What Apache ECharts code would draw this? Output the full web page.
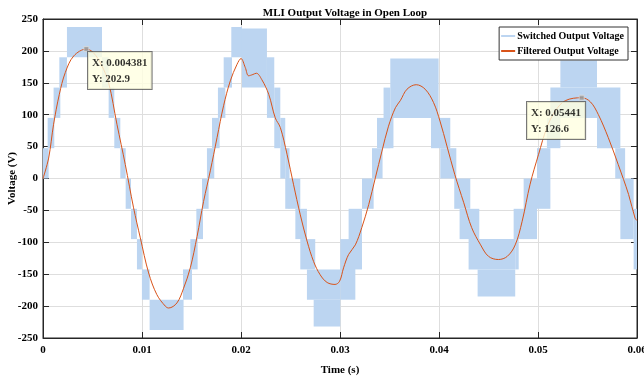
<!DOCTYPE html>
<html>
<head>
<meta charset="utf-8">
<script src="https://cdn.jsdelivr.net/npm/echarts@6/dist/echarts.min.js"></script>
<style>
  html, body { margin: 0; padding: 0; background: #fff; }
  #chart { width: 644px; height: 381px; }
</style>
</head>
<body>
<div id="chart"></div>
<script>
  // switched output: PWM bands [t start (s), t end (s), low level (V), high level (V)]
  const switchBands = [
    [0, 0.00057, 0, 47.5],
    [0.00047, 0.00114, 47.5, 95],
    [0.00107, 0.00175, 95, 142.5],
    [0.00165, 0.00242, 142.5, 190],
    [0.00242, 0.00596, 190, 237.5],
    [0.00596, 0.00663, 142.5, 190],
    [0.00663, 0.0072, 95, 142.5],
    [0.0072, 0.00781, 47.5, 95],
    [0.00781, 0.00835, 0, 47.5],
    [0.00835, 0.00889, -47.5, 0],
    [0.00889, 0.00949, -95, -47.5],
    [0.00949, 0.00999, -142.5, -95],
    [0.00999, 0.01077, -190, -142.5],
    [0.01077, 0.0142, -237.5, -190],
    [0.01414, 0.01505, -190, -142.5],
    [0.01488, 0.01562, -142.5, -95],
    [0.01549, 0.01616, -95, -47.5],
    [0.01606, 0.01673, -47.5, 0],
    [0.01656, 0.0173, 0, 47.5],
    [0.01707, 0.01784, 47.5, 95],
    [0.01767, 0.01842, 95, 142.5],
    [0.01825, 0.01909, 142.5, 190],
    [0.01902, 0.0201, 190, 237.5],
    [0.0201, 0.02262, 142.5, 235],
    [0.02262, 0.02336, 95, 190],
    [0.02336, 0.02397, 47.5, 142.5],
    [0.02397, 0.02447, 0, 95],
    [0.02447, 0.0249, -47.5, 47.5],
    [0.0248, 0.02599, -47.5, 0],
    [0.02549, 0.02666, -95, -47.5],
    [0.02599, 0.0275, -142.5, -95],
    [0.02666, 0.03003, -190, -142.5],
    [0.02734, 0.03003, -232, -190],
    [0.03003, 0.03155, -190, -95],
    [0.03087, 0.03222, -142.5, -47.5],
    [0.03222, 0.0334, -47.5, 0],
    [0.03323, 0.0343, 0, 47.5],
    [0.03374, 0.0354, 47.5, 95],
    [0.0344, 0.03508, 47.5, 142.5],
    [0.03508, 0.03996, 95, 188],
    [0.03919, 0.04114, 47.5, 95],
    [0.04013, 0.04175, 0, 47.5],
    [0.04154, 0.04316, -47.5, 0],
    [0.04208, 0.04407, -95, -47.5],
    [0.04299, 0.0477, -142.5, -95],
    [0.0439, 0.0477, -185, -142.5],
    [0.04754, 0.0486, -95, -47.5],
    [0.0477, 0.04805, -142.5, -95],
    [0.04855, 0.0499, -95, 0],
    [0.0499, 0.05125, -47.5, 47.5],
    [0.0509, 0.05226, 47.5, 95],
    [0.05125, 0.05596, 95, 142.5],
    [0.05226, 0.05596, 142.5, 185],
    [0.05596, 0.05832, 47.5, 142.5],
    [0.0578, 0.0588, 0, 47.5],
    [0.05832, 0.05966, -95, 0],
    [0.05966, 0.06, -142.5, -47.5]
  ]

  // filtered output voltage
  const filteredT = [
    0, 0.00057, 0.00107, 0.00165, 0.00225, 0.0031, 0.004381, 0.0051, 0.0059, 0.00663,
    0.00747, 0.00831, 0.00915, 0.00983, 0.01067, 0.0115, 0.01235, 0.01269, 0.01353, 0.0142,
    0.01488, 0.01556, 0.01622, 0.0169, 0.01758, 0.01824, 0.01892, 0.0196, 0.02, 0.02043,
    0.02077, 0.0212, 0.02155, 0.0221, 0.0228, 0.02346, 0.02397, 0.02465, 0.0253, 0.02599,
    0.02667, 0.02733, 0.028, 0.0287, 0.0295, 0.02996, 0.03036, 0.03087, 0.03155, 0.0322,
    0.0329, 0.03357, 0.03424, 0.0349, 0.0356, 0.03609, 0.03677, 0.0377, 0.0386, 0.03945,
    0.0401, 0.0408, 0.0416, 0.0425, 0.0433, 0.0442, 0.045, 0.046, 0.0469, 0.0477,
    0.0484, 0.0492, 0.05006, 0.0509, 0.05175, 0.05276, 0.05441, 0.0553, 0.0561, 0.0571,
    0.0581, 0.05915, 0.0598, 0.06
  ]
  const filteredV = [
    0, 32, 85, 132, 166, 192, 202.9, 197, 178, 150,
    85, 22, -46, -93, -148, -182, -200, -203, -195, -172,
    -140, -91, -36, 12, 64, 114, 153, 179, 188, 174,
    161, 163, 165, 155, 132, 95, 80, 38, -9, -57,
    -98, -130, -151, -163, -166, -161, -140, -119, -104, -77,
    -41, 1, 43, 82, 111, 122, 140, 147, 140, 119,
    90, 51, 6, -38, -77, -104, -122, -127, -122, -104,
    -67, -9, 38, 80, 106, 122, 126.6, 120, 100, 64,
    22, -25, -62, -66
  ]

  // data tips
  const tipX = [0.004381, 0.05441]
  const tipY = [202.9, 126.6]

  const FONT = 'Liberation Serif'
  const AXIS_COLOR = '#262626'
  const GRID_COLOR = '#dedede'

  const chart = echarts.init(document.getElementById('chart'), null, { renderer: 'canvas' })

  const axisText = { color: '#000', fontFamily: FONT, fontWeight: 'bold', fontSize: 11 }

  chart.setOption({
    animation: false,
    backgroundColor: '#fff',
    title: {
      text: 'MLI Output Voltage in Open Loop',
      left: 340,
      textAlign: 'center',
      top: 3,
      textStyle: { color: '#000', fontFamily: FONT, fontWeight: 'bold', fontSize: 11 }
    },
    legend: {
      orient: 'vertical',
      right: 16,
      top: 27,
      backgroundColor: '#fff',
      borderColor: '#333',
      borderWidth: 1,
      borderRadius: 0,
      padding: [4, 4, 4, 2],
      itemWidth: 14,
      itemHeight: 2,
      itemGap: 5,
      textStyle: { color: '#000', fontFamily: FONT, fontWeight: 'bold', fontSize: 10, padding: [0, 0, 0, -3] },
      data: [
        { name: 'Switched Output Voltage', icon: 'rect' },
        { name: 'Filtered Output Voltage', icon: 'rect' }
      ]
    },
    grid: {
      left: 43, right: 7, top: 19, bottom: 43,
      containLabel: false, outerBoundsMode: 'none',
      show: true, borderColor: AXIS_COLOR, borderWidth: 1
    },
    xAxis: [{
      type: 'value',
      min: 0,
      max: 0.06,
      interval: 0.01,
      name: 'Time (s)',
      nameLocation: 'middle',
      nameGap: 27,
      nameMoveOverlap: false,
      nameTextStyle: axisText,
      axisLine: { show: true, onZero: false, lineStyle: { color: AXIS_COLOR } },
      axisTick: { show: true, inside: true, length: 6, lineStyle: { color: AXIS_COLOR } },
      axisLabel: Object.assign({ margin: 7 }, axisText),
      splitLine: { show: true, lineStyle: { color: GRID_COLOR } }
    }, {
      type: 'value',
      position: 'top',
      min: 0,
      max: 0.06,
      interval: 0.01,
      axisLine: { show: true, onZero: false, lineStyle: { color: AXIS_COLOR } },
      axisTick: { show: true, inside: true, length: 6, lineStyle: { color: AXIS_COLOR } },
      axisLabel: { show: false },
      splitLine: { show: false }
    }],
    yAxis: [{
      type: 'value',
      min: -250,
      max: 250,
      interval: 50,
      name: 'Voltage (V)',
      nameLocation: 'middle',
      nameGap: 25,
      nameMoveOverlap: false,
      nameTextStyle: axisText,
      axisLine: { show: true, onZero: false, lineStyle: { color: AXIS_COLOR } },
      axisTick: { show: true, inside: true, length: 6, lineStyle: { color: AXIS_COLOR } },
      axisLabel: Object.assign({ margin: 5 }, axisText),
      splitLine: { show: true, lineStyle: { color: GRID_COLOR } }
    }, {
      type: 'value',
      position: 'right',
      min: -250,
      max: 250,
      interval: 50,
      axisLine: { show: true, onZero: false, lineStyle: { color: AXIS_COLOR } },
      axisTick: { show: true, inside: true, length: 6, lineStyle: { color: AXIS_COLOR } },
      axisLabel: { show: false },
      splitLine: { show: false }
    }],
    series: [{
      name: 'Switched Output Voltage',
      type: 'custom',
      itemStyle: { color: '#bcd5f1' },
      encode: { x: [0, 1], y: [2, 3] },
      data: switchBands,
      renderItem: function (params, api) {
        const p0 = api.coord([api.value(0), api.value(3)])
        const p1 = api.coord([api.value(1), api.value(2)])
        const rect = echarts.graphic.clipRectByRect({
          x: p0[0], y: p0[1], width: p1[0] - p0[0], height: p1[1] - p0[1]
        }, {
          x: params.coordSys.x, y: params.coordSys.y,
          width: params.coordSys.width, height: params.coordSys.height
        })
        return rect && {
          type: 'rect',
          shape: rect,
          style: { fill: '#bcd5f1' }
        }
      },
      z: 2
    }, {
      name: 'Filtered Output Voltage',
      type: 'line',
      data: filteredT.map((t, i) => [t, filteredV[i]]),
      smooth: 0.35,
      showSymbol: false,
      lineStyle: { color: '#d95319', width: 1 },
      itemStyle: { color: '#d95319' },
      z: 3
    }, {
      name: 'tips',
      type: 'scatter',
      data: tipX.map((x, i) => [x, tipY[i]]),
      symbol: 'rect',
      symbolSize: 5,
      itemStyle: { color: '#9a9a9a', borderColor: '#ddd', borderWidth: 1 },
      label: {
        show: true,
        formatter: p => 'X: ' + p.value[0] + '\nY: ' + p.value[1],
        color: '#000',
        fontFamily: FONT,
        fontWeight: 'bold',
        fontSize: 11,
        lineHeight: 16,
        backgroundColor: '#ffffe1',
        borderColor: '#555',
        borderWidth: 1,
        padding: [3, 4, 2, 4]
      },
      labelLayout: function (params) {
        // first tip sits right/below the point, second one left/below
        if (params.dataIndex === 0) {
          return { x: 88, y: 52, align: 'left', verticalAlign: 'top' }
        }
        return { x: 527, y: 102, align: 'left', verticalAlign: 'top' }
      },
      z: 5
    }]
  })
</script>
</body>
</html>
